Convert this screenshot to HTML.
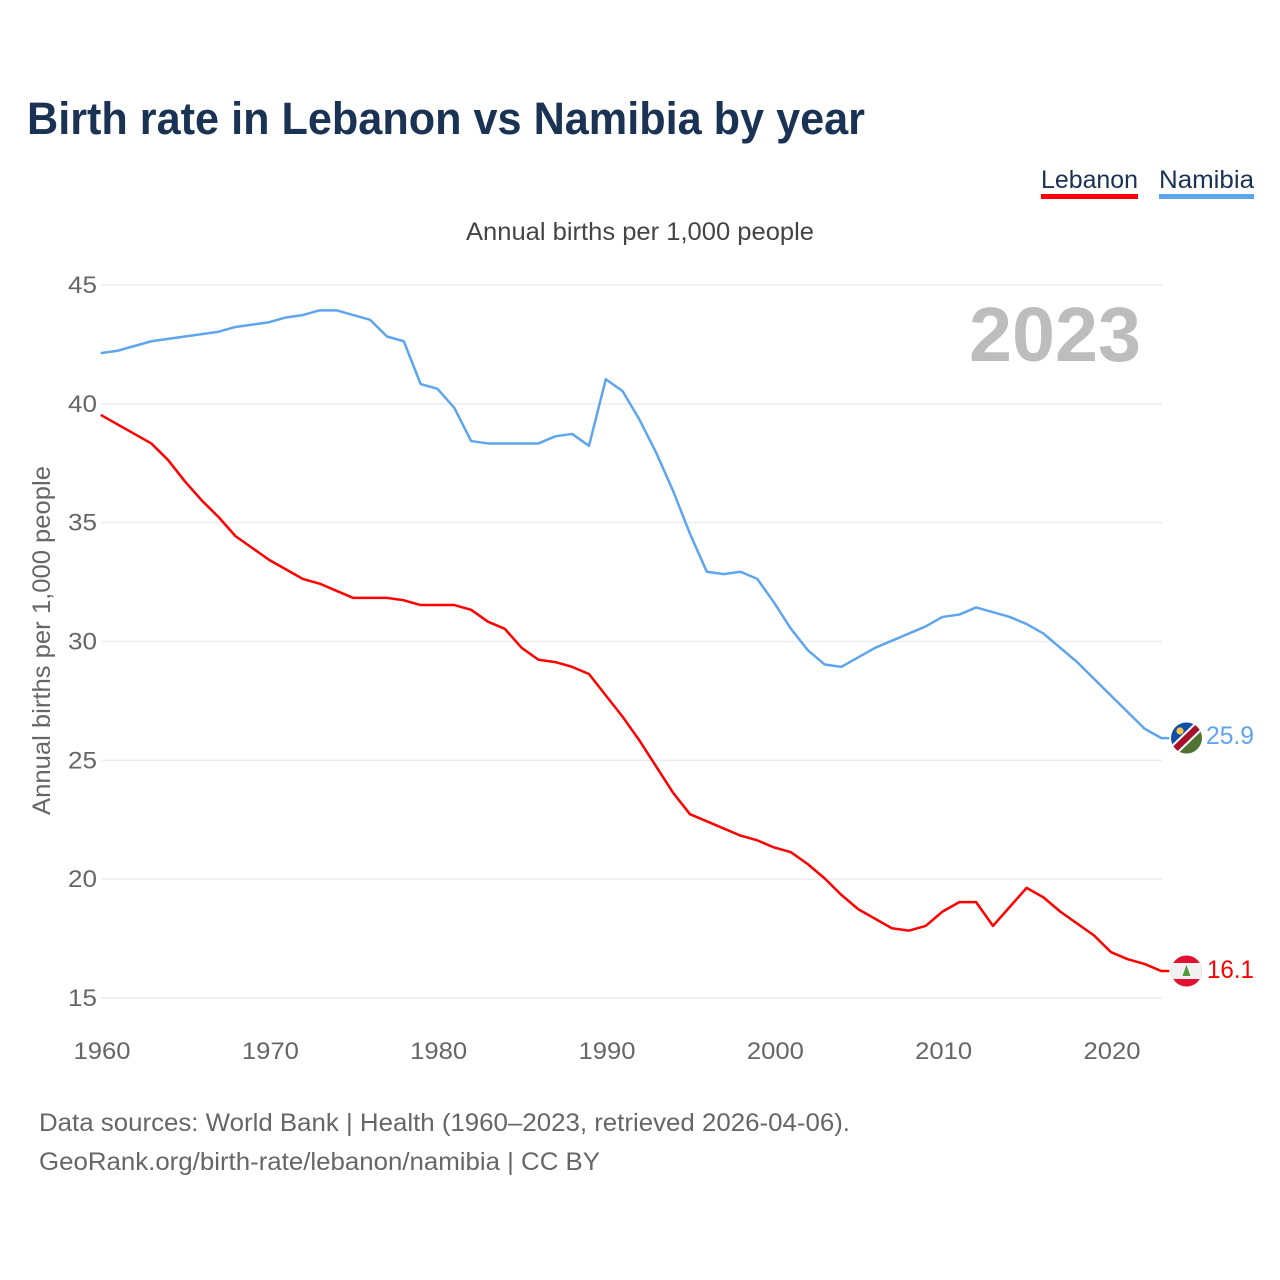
<!DOCTYPE html>
<html>
<head>
<meta charset="utf-8">
<title>Birth rate in Lebanon vs Namibia by year</title>
<style>
html,body{margin:0;padding:0;background:#fff;width:1280px;height:1280px;overflow:hidden}
svg{display:block}
text{font-family:"Liberation Sans",sans-serif}
</style>
</head>
<body>
<svg id="chart" width="1280" height="1280" viewBox="0 0 1280 1280" xmlns="http://www.w3.org/2000/svg">
  <defs>
    <clipPath id="flag-clip-nam"><circle cx="1186.5" cy="738" r="15.5"/></clipPath>
    <clipPath id="flag-clip-leb"><circle cx="1186.5" cy="971" r="15.5"/></clipPath>
  </defs>
  <rect width="1280" height="1280" fill="#fff"/>
  <text x="27" y="134" font-size="45.5" font-weight="700" fill="#1a3254" textLength="838" lengthAdjust="spacingAndGlyphs">Birth rate in Lebanon vs Namibia by year</text>

  <g>
    <text x="1041" y="188" font-size="25" fill="#1a3254" textLength="97" lengthAdjust="spacingAndGlyphs">Lebanon</text>
    <rect x="1041" y="194" width="97" height="5" fill="#ff0000"/>
  </g>
  <g>
    <text x="1159" y="188" font-size="25" fill="#1a3254" textLength="95" lengthAdjust="spacingAndGlyphs">Namibia</text>
    <rect x="1159" y="194" width="95" height="5" fill="#5fa5ee"/>
  </g>

  <text x="466" y="240" font-size="25" fill="#444" textLength="348" lengthAdjust="spacingAndGlyphs">Annual births per 1,000 people</text>
  <text transform="translate(50,815) rotate(-90)" x="0" y="0" font-size="25" fill="#666" textLength="349" lengthAdjust="spacingAndGlyphs">Annual births per 1,000 people</text>

  <g id="grid"></g>
  <g id="ylabels"></g>
  <g id="xlabels"></g>

  <text x="969" y="361" font-size="77" font-weight="700" fill="#bdbdbd" textLength="172" lengthAdjust="spacingAndGlyphs">2023</text>

  <g id="series" transform="translate(-0.7,-0.8)"></g>

  <g clip-path="url(#flag-clip-nam)">
    <rect x="1170" y="722" width="33" height="33" fill="#ffffff"/>
    <polygon points="1170,722 1198,722 1170,750" fill="#0f4fa8"/>
    <polygon points="1203,727 1203,755 1176,755" fill="#4f7431"/>
    <line x1="1172" y1="752" x2="1201" y2="724" stroke="#ffffff" stroke-width="10.5"/>
    <line x1="1172" y1="752" x2="1201" y2="724" stroke="#a6122e" stroke-width="6.5"/>
    <circle cx="1180" cy="731" r="3.6" fill="#f6c945"/>
  </g>
  <g clip-path="url(#flag-clip-leb)">
    <rect x="1170" y="955" width="33" height="33" fill="#e2112f"/>
    <rect x="1170" y="963" width="33" height="16" fill="#f1f1f1"/>
    <polygon points="1186.5,965 1190.5,976 1182.5,976" fill="#4f9a3c"/>
  </g>

  <text x="1206" y="744" font-size="25" fill="#5fa5ee" textLength="48" lengthAdjust="spacingAndGlyphs">25.9</text>
  <text x="1207" y="978" font-size="25" fill="#ff0000" textLength="47" lengthAdjust="spacingAndGlyphs">16.1</text>

  <text x="39" y="1131" font-size="25" fill="#666" textLength="811" lengthAdjust="spacingAndGlyphs">Data sources: World Bank | Health (1960–2023, retrieved 2026-04-06).</text>
  <text x="39" y="1170" font-size="25" fill="#666" textLength="561" lengthAdjust="spacingAndGlyphs">GeoRank.org/birth-rate/lebanon/namibia | CC BY</text>
</svg>
<script>
const startYear = 1960;
const yTicks = [15, 20, 25, 30, 35, 40, 45];
const xTicks = [1960, 1970, 1980, 1990, 2000, 2010, 2020];
const lebanonValues = [39.5,39.1,38.7,38.3,37.6,36.7,35.9,35.2,34.4,33.9,33.4,33.0,32.6,32.4,32.1,31.8,31.8,31.8,31.7,31.5,31.5,31.5,31.3,30.8,30.5,29.7,29.2,29.1,28.9,28.6,27.7,26.8,25.8,24.7,23.6,22.7,22.4,22.1,21.8,21.6,21.3,21.1,20.6,20.0,19.3,18.7,18.3,17.9,17.8,18.0,18.6,19.0,19.0,18.0,18.8,19.6,19.2,18.6,18.1,17.6,16.9,16.6,16.4,16.1];
const namibiaValues = [42.1,42.2,42.4,42.6,42.7,42.8,42.9,43.0,43.2,43.3,43.4,43.6,43.7,43.9,43.9,43.7,43.5,42.8,42.6,40.8,40.6,39.8,38.4,38.3,38.3,38.3,38.3,38.6,38.7,38.2,41.0,40.5,39.3,37.9,36.3,34.5,32.9,32.8,32.9,32.6,31.6,30.5,29.6,29.0,28.9,29.3,29.7,30.0,30.3,30.6,31.0,31.1,31.4,31.2,31.0,30.7,30.3,29.7,29.1,28.4,27.7,27.0,26.3,25.9];

const NS = 'http://www.w3.org/2000/svg';
function xScale(year) { return 101.5 + (year - 1960) * (1162 - 101.5) / 63; }
function yScale(value) { return 998 - (value - 15) * (998 - 285) / 30; }

const grid = document.getElementById('grid');
const ylabels = document.getElementById('ylabels');
const xlabels = document.getElementById('xlabels');
const series = document.getElementById('series');

yTicks.forEach(function (t) {
  const line = document.createElementNS(NS, 'line');
  
  
  line.setAttribute('x1', xScale(1960));
  line.setAttribute('x2', xScale(2023));
  line.setAttribute('y1', yScale(t));
  line.setAttribute('y2', yScale(t));
  line.setAttribute('stroke', '#ececec');
  line.setAttribute('stroke-width', '1.5');
  grid.appendChild(line);

  const label = document.createElementNS(NS, 'text');
  
  
  label.setAttribute('x', 68);
  label.setAttribute('y', yScale(t) + 8);
  label.setAttribute('font-size', '24');
  label.setAttribute('fill', '#666');
  label.setAttribute('textLength', '29');
  label.setAttribute('lengthAdjust', 'spacingAndGlyphs');
  label.textContent = t;
  ylabels.appendChild(label);
});

xTicks.forEach(function (t) {
  const label = document.createElementNS(NS, 'text');
  
  
  label.setAttribute('x', xScale(t) - 28);
  label.setAttribute('y', 1059);
  label.setAttribute('font-size', '24');
  label.setAttribute('fill', '#666');
  label.setAttribute('textLength', '57');
  label.setAttribute('lengthAdjust', 'spacingAndGlyphs');
  label.textContent = t;
  xlabels.appendChild(label);
});

function drawSeries(values, color, name) {
  const pts = values.map(function (v, i) {
    return xScale(startYear + i).toFixed(2) + ',' + yScale(v).toFixed(2);
  });
  const last = yScale(values[values.length - 1]);
  pts.push('1170,' + last.toFixed(2));
  const path = document.createElementNS(NS, 'polyline');
  
  
  path.setAttribute('points', pts.join(' '));
  path.setAttribute('fill', 'none');
  path.setAttribute('stroke', color);
  path.setAttribute('stroke-width', '2.5');
  path.setAttribute('stroke-linejoin', 'round');
  series.appendChild(path);
}
drawSeries(namibiaValues, '#5fa5ee', 'line-namibia');
drawSeries(lebanonValues, '#ff0000', 'line-lebanon');
</script>
</body>
</html>
